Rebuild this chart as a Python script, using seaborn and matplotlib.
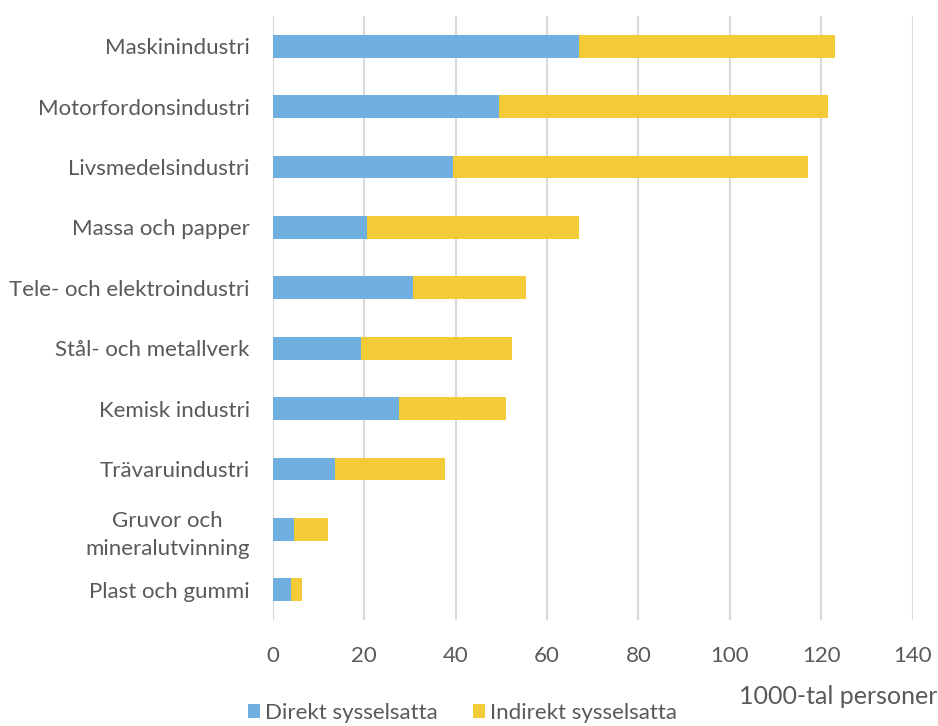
import matplotlib
matplotlib.use("Agg")
import matplotlib.pyplot as plt
import seaborn as sns
import pandas as pd
from matplotlib.patches import Patch

categories = ["Maskinindustri", "Motorfordonsindustri", "Livsmedelsindustri",
              "Massa och papper", "Tele- och elektroindustri", "Stål- och metallverk",
              "Kemisk industri", "Trävaruindustri", "Gruvor och\nmineralutvinning",
              "Plast och gummi"]
direkt = [66.9, 49.6, 39.4, 20.7, 30.7, 19.4, 27.7, 13.7, 4.6, 4.1]
indirekt = [56.2, 71.8, 77.6, 46.3, 24.8, 33.0, 23.4, 23.9, 7.4, 2.2]
xticks = [0, 20, 40, 60, 80, 100, 120, 140]

df = pd.DataFrame({"kategori": categories, "direkt": direkt, "indirekt": indirekt})
df["total"] = df["direkt"] + df["indirekt"]

sns.set_theme(style="white")
plt.rcParams["font.family"] = ["Lato", "DejaVu Sans"]
TXT = "#595959"
BLUE = "#6FB0E1"
YELLOW = "#F2CB37"

fig = plt.figure(figsize=(9.38, 7.26), dpi=100)
ax = fig.add_axes([272.7 / 938, 1 - 620 / 726, (912.7 - 272.7) / 938, 604 / 726])

sns.barplot(data=df, y="kategori", x="total", color=YELLOW, orient="h",
            width=0.38, ax=ax, saturation=1, edgecolor="none", zorder=3)
sns.barplot(data=df, y="kategori", x="direkt", color=BLUE, orient="h",
            width=0.38, ax=ax, saturation=1, edgecolor="none", zorder=4)

ax.set_xlim(0, 140)
ax.set_ylim(9.5, -0.5)
ax.set_xticks(xticks)
ax.set_xticklabels([str(t) for t in xticks])
ax.xaxis.grid(True, color="#D9D9D9", linewidth=1.5, zorder=0)
ax.yaxis.grid(False)
ax.axvline(0, color="#D9D9D9", linewidth=1.5, zorder=1)
for s in ax.spines.values():
    s.set_visible(False)
ax.set_xlabel("")
ax.set_ylabel("")
ax.tick_params(axis="x", length=0, pad=19, labelsize=16, labelcolor=TXT)
ax.tick_params(axis="y", length=0, pad=16.5, labelsize=16, labelcolor=TXT)
for lab in ax.get_yticklabels():
    lab.set_multialignment("center")
    lab.set_linespacing(1.45)

fig.text(937 / 938, 1 - 697 / 726, "1000-tal personer", ha="right", va="center",
         fontsize=18, color=TXT)

handles = [Patch(facecolor=BLUE, edgecolor="none"), Patch(facecolor=YELLOW, edgecolor="none")]
fig.legend(handles, ["Direkt sysselsatta", "Indirekt sysselsatta"], loc="center",
           bbox_to_anchor=(462.5 / 938, 1 - 713 / 726), ncol=2, frameon=False,
           fontsize=16, labelcolor=TXT, handlelength=0.55, handleheight=0.55,
           handletextpad=0.2, columnspacing=1.6, borderpad=0, borderaxespad=0)

fig.savefig("out.png", dpi=100)
